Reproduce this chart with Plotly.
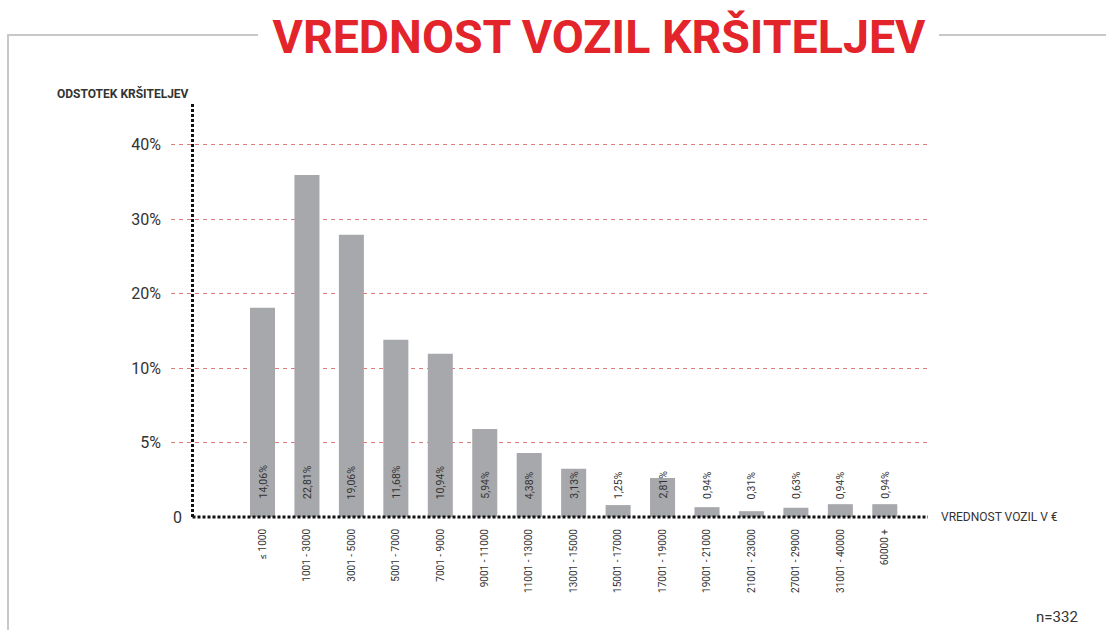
import numpy as np
import plotly.graph_objects as go

# ---------------- data ----------------
categories = ["≤ 1000", "1001 - 3000", "3001 - 5000", "5001 - 7000", "7001 - 9000",
              "9001 - 11000", "11001 - 13000", "13001 - 15000", "15001 - 17000",
              "17001 - 19000", "19001 - 21000", "21001 - 23000", "27001 - 29000",
              "31001 - 40000", "60000 +"]
value_labels = ["14,06%", "22,81%", "19,06%", "11,68%", "10,94%", "5,94%", "4,38%",
                "3,13%", "1,25%", "2,81%", "0,94%", "0,31%", "0,63%", "0,94%", "0,94%"]
# bar heights as read against the chart's own (non-linear) percent axis
bar_heights = [18.1, 35.9, 27.9, 13.8, 11.9, 5.9, 4.3, 3.24, 0.80, 2.62,
               0.66, 0.39, 0.62, 0.86, 0.86]
tick_percents = [5, 10, 20, 30, 40]
tick_labels = ["5%", "10%", "20%", "30%", "40%"]
scale_breaks = [0, 5, 10, 20, 30, 40]   # axis is evenly spaced at these values

# ---------------- layout helpers ----------------
W, H = 1106, 630
L, R, T, B = 171, 176, 102, 113
PW, PH = W - L - R, H - T - B


def px(x):
    return (x - L) / PW


def py(y):
    return (H - B - y) / PH


def to_axis(v):
    return np.interp(v, scale_breaks, np.arange(len(scale_breaks)))


xs = list(range(len(categories)))
ys = [float(to_axis(v)) for v in bar_heights]

FONT = "Roboto, 'Noto Sans', sans-serif"
DARK = "#333333"

fig = go.Figure()
fig.add_trace(go.Bar(x=xs, y=ys, width=0.563, marker=dict(color="#a7a8ab", line=dict(width=0)),
                     hoverinfo="skip"))

unit_px = 74.5
ytop = PH / unit_px
fig.update_layout(
    width=W, height=H,
    margin=dict(l=L, r=R, t=T, b=B, pad=0),
    paper_bgcolor="white", plot_bgcolor="white",
    showlegend=False,
    title=dict(text="VREDNOST VOZIL KRŠITELJEV", x=599 / W, xanchor="center",
               y=1 - 37 / H, yanchor="middle", yref="container",
               font=dict(family=FONT, size=46.5, color="#e3242b", weight="bold")),
    xaxis=dict(range=[(L - 262.5) / 44.45, (L + PW - 262.5) / 44.45],
               tickmode="array", tickvals=xs, ticktext=categories, tickangle=-90,
               tickfont=dict(family=FONT, size=10, color=DARK),
               showgrid=False, zeroline=False, showline=False, ticks="",
               ticklabelstandoff=9, fixedrange=True),
    yaxis=dict(range=[0, ytop], tickmode="array",
               tickvals=[float(to_axis(v)) for v in tick_percents], ticktext=tick_labels,
               tickfont=dict(family=FONT, size=16, color=DARK),
               showgrid=True, gridcolor="#e07878", gridwidth=1, griddash="4px,4px",
               zeroline=False, showline=False, ticks="", ticklabelstandoff=9,
               fixedrange=True),
    bargap=0.3,
)

# axis lines (dotted)
fig.add_shape(type="line", xref="paper", yref="paper", x0=px(192.5), x1=px(192.5),
              y0=0, y1=1, line=dict(color="#111111", width=3, dash="3px,2px"))
fig.add_shape(type="line", xref="paper", yref="paper", x0=px(192.5), x1=px(928),
              y0=0, y1=0, line=dict(color="#111111", width=3, dash="3px,2px"))

# frame lines around title
frame = dict(color="#c8c8c8", width=2)
fig.add_shape(type="line", xref="paper", yref="paper", x0=px(8), x1=px(258),
              y0=py(35), y1=py(35), line=frame)
fig.add_shape(type="line", xref="paper", yref="paper", x0=px(939), x1=px(1106),
              y0=py(35), y1=py(35), line=frame)
fig.add_shape(type="line", xref="paper", yref="paper", x0=px(8), x1=px(8),
              y0=py(34), y1=py(632), line=frame)

# value labels
for x, lab in zip(xs, value_labels):
    fig.add_annotation(x=x, y=0, xref="x", yref="y", text=lab, showarrow=False,
                       textangle=-90, yanchor="bottom", xanchor="center", yshift=16,
                       font=dict(family=FONT, size=10.5, color=DARK))

# other texts
fig.add_annotation(x=px(177), y=0, xref="paper", yref="paper", text="0", showarrow=False,
                   xanchor="center", yanchor="middle", font=dict(family=FONT, size=16, color=DARK))
fig.add_annotation(x=px(55), y=py(93), xref="paper", yref="paper", text="ODSTOTEK KRŠITELJEV",
                   showarrow=False, xanchor="left", yanchor="middle",
                   font=dict(family=FONT, size=12, color=DARK, weight="bold"))
fig.add_annotation(x=px(939), y=py(517), xref="paper", yref="paper", text="VREDNOST VOZIL V €",
                   showarrow=False, xanchor="left", yanchor="middle",
                   font=dict(family=FONT, size=12, color=DARK))
fig.add_annotation(x=px(1080), y=py(617), xref="paper", yref="paper", text="n=332",
                   showarrow=False, xanchor="right", yanchor="middle",
                   font=dict(family=FONT, size=15, color=DARK))

fig.write_html("out.html", config={"displayModeBar": False},
               post_script="document.body.style.margin='0';")
